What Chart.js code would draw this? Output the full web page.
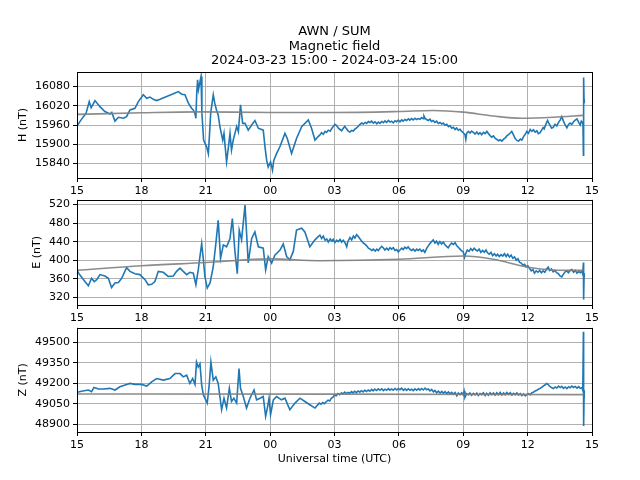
<!DOCTYPE html>
<html>
<head>
<meta charset="utf-8">
<title>AWN / SUM - Magnetic field</title>
<script src="https://cdn.jsdelivr.net/npm/chart.js@4.4.1/dist/chart.umd.min.js"></script>
<style>
  html, body { margin: 0; padding: 0; background: #fff; }
  .panel { position: absolute; left: 0; }
</style>
</head>
<body>
<canvas id="chartH" class="panel" width="640" height="196" style="top:0px"></canvas>
<canvas id="chartE" class="panel" width="640" height="133" style="top:190px"></canvas>
<canvas id="chartZ" class="panel" width="640" height="162" style="top:318px"></canvas>
<script>
// ── Data (x = hours since 2024-03-23 15:00 UTC) ──────────────────────
const X_TICKS = [0, 3, 6, 9, 12, 15, 18, 21, 24];
const X_LABELS = ['15', '18', '21', '00', '03', '06', '09', '12', '15'];

const H_TICKS = [15840, 15900, 15960, 16020, 16080];
const E_TICKS = [320, 360, 400, 440, 480, 520];
const Z_TICKS = [48900, 49050, 49200, 49350, 49500];

const H_TIME = [0, 0.15, 0.3, 0.42, 0.57, 0.66, 0.84, 1.07, 1.3, 1.54, 1.62, 1.77, 1.93, 2.16, 2.31, 2.47, 2.7, 2.86,
  3.09, 3.25, 3.4, 3.56, 3.71, 3.87, 4.18, 4.49, 4.72, 4.88, 5.03, 5.19, 5.34, 5.42, 5.5, 5.54, 5.58, 5.62, 5.66,
  5.72, 5.78, 5.82, 5.9, 6.04, 6.12, 6.16, 6.23, 6.35, 6.42, 6.5, 6.58, 6.66, 6.79, 6.85, 6.97, 7.05, 7.13, 7.2,
  7.28, 7.44, 7.52, 7.62, 7.72, 7.83, 7.98, 8.14, 8.29, 8.45, 8.68, 8.76, 8.84, 8.91, 9.02, 9.11, 9.17, 9.3, 9.46,
  9.69, 9.8, 10.0, 10.23, 10.47, 10.78, 10.93, 11.09, 11.24,
  11.32, 11.4, 11.48, 11.56, 11.63, 11.71, 11.8, 11.88, 11.94, 12.02, 12.1, 12.18, 12.26, 12.33, 12.41, 12.48, 12.56,
  12.64, 12.72, 12.8, 12.88, 12.95, 13.03, 13.11, 13.19, 13.27, 13.35, 13.43, 13.5, 13.58, 13.65, 13.73, 13.81, 13.89,
  13.97, 14.04, 14.12, 14.2, 14.28, 14.35, 14.43, 14.51, 14.59, 14.66, 14.74, 14.82, 14.89, 14.97, 15.05, 15.13, 15.2,
  15.28, 15.36, 15.44, 15.51, 15.59, 15.67, 15.75, 15.82, 15.9, 15.98, 16.06, 16.13, 16.17, 16.22, 16.29, 16.37,
  16.45, 16.52, 16.6, 16.68, 16.76, 16.84, 16.92, 17.0, 17.07, 17.15, 17.23, 17.31, 17.38, 17.46, 17.54, 17.62,
  17.69, 17.77, 17.85, 17.93, 18.0, 18.08, 18.12, 18.16, 18.24, 18.32, 18.39, 18.47, 18.55, 18.63, 18.71, 18.78,
  18.86, 18.94, 19.02, 19.1, 19.18, 19.25, 19.33, 19.41, 19.49, 19.57, 19.64, 19.72, 19.8, 19.88, 19.96, 20.03,
  20.11, 20.19, 20.26, 20.34, 20.42, 20.5, 20.58, 20.66, 20.73, 20.81, 20.89, 20.96, 21.04, 21.12, 21.2, 21.27,
  21.35, 21.43, 21.5, 21.58, 21.66, 21.72, 21.77, 21.85, 21.93, 21.97, 22.05, 22.12, 22.2, 22.28, 22.36, 22.44,
  22.52, 22.59, 22.67, 22.75, 22.83, 22.9, 22.98, 23.06, 23.14, 23.22, 23.3, 23.38, 23.45, 23.5, 23.55, 23.58, 23.6,
  23.61, 23.63, 23.64];
const H_VALUES = [15957, 15972, 15986, 15996, 16033, 16014, 16036, 16017, 16002, 15994, 15999, 15972, 15984, 15981,
  15986, 16007, 16012, 16033, 16054, 16043, 16047, 16040, 16036, 16040, 16049, 16057, 16064, 16056, 16054, 16028,
  16012, 16007, 15995, 15981, 16060, 16101, 16070, 16090, 16111, 15997, 15913, 15892, 15871, 15913, 15996, 16054,
  16028, 16007, 15991, 15955, 15913, 15934, 15845, 15887, 15934, 15882, 15913, 15955, 15939, 16023, 15965, 15965,
  15944, 15960, 15974, 15950, 15944, 15892, 15850, 15829, 15845, 15819, 15850, 15871, 15893, 15934, 15918, 15871,
  15918, 15955, 15976, 15950, 15913, 15924,
  15929, 15936, 15931, 15940, 15937, 15944, 15941, 15950, 15955, 15962, 15958, 15950, 15946, 15942, 15950, 15956,
  15948, 15941, 15938, 15943, 15941, 15947, 15951, 15956, 15962, 15966, 15963, 15968, 15965, 15971, 15968, 15972,
  15966, 15970, 15964, 15969, 15965, 15971, 15967, 15973, 15968, 15974, 15969, 15972, 15967, 15973, 15970, 15975,
  15970, 15976, 15972, 15977, 15974, 15979, 15975, 15980, 15976, 15981, 15977, 15980, 15978, 15983, 15980, 15988,
  15981, 15977, 15974, 15978, 15971, 15974, 15968, 15972, 15965, 15968, 15963, 15966, 15959, 15962, 15955, 15958,
  15950, 15953, 15946, 15951, 15944, 15947, 15940, 15936, 15930, 15915, 15934, 15940, 15935, 15941, 15937, 15932,
  15938, 15931, 15936, 15930, 15937, 15933, 15940, 15933, 15927, 15922, 15926, 15918, 15915, 15911, 15914, 15910,
  15916, 15920, 15926, 15930, 15935, 15940, 15929, 15918, 15912, 15910, 15916, 15913, 15924, 15931, 15940, 15934,
  15946, 15940, 15945, 15938, 15942, 15933, 15936, 15945, 15952, 15948, 15962, 15974, 15968, 15958, 15950, 15953,
  15962, 15957, 15968, 15976, 15986, 15972, 15960, 15951, 15961, 15966, 15962, 15970, 15975, 15979, 15968, 15960,
  15972, 15968, 15960, 15866, 16108, 16030, 16040];
const H_BASE_TIME = [0, 3, 5.6, 9, 12, 15, 16.6, 18, 19.4, 20.7, 22.2, 23.6];
const H_BASE = [15993, 15998, 16001, 15999, 15999, 16002, 16005, 16000, 15988, 15981, 15984, 15990];

const E_TIME = [0, 0.12, 0.37, 0.53, 0.68, 0.8, 0.92, 1.07, 1.3, 1.46, 1.61, 1.77, 1.93, 2.08, 2.31, 2.47, 2.7, 2.93,
  3.17, 3.32, 3.48, 3.63, 3.79, 4.02, 4.25, 4.49, 4.64, 4.8, 4.95, 5.11, 5.26, 5.42, 5.54, 5.65, 5.73, 5.81, 5.89,
  5.96, 6.07, 6.2, 6.35, 6.47, 6.58, 6.69, 6.82, 6.97, 7.13, 7.24, 7.36, 7.47, 7.56, 7.67, 7.83, 7.98, 8.14, 8.29,
  8.45, 8.68, 8.79, 8.91, 9.07, 9.22, 9.46, 9.61, 9.77, 9.92, 10.08, 10.23, 10.47, 10.62, 10.85, 11.09, 11.24,
  11.32, 11.4, 11.48, 11.56, 11.64, 11.71, 11.8, 11.88, 11.94, 12.02, 12.1, 12.17, 12.26, 12.33, 12.41, 12.5, 12.57,
  12.62, 12.72, 12.8, 12.88, 12.95, 13.03, 13.11, 13.19, 13.27, 13.35, 13.43, 13.5, 13.58, 13.66, 13.74, 13.81, 13.9,
  13.97, 14.04, 14.12, 14.2, 14.27, 14.35, 14.43, 14.51, 14.59, 14.66, 14.74, 14.82, 14.9, 14.97, 15.05, 15.13, 15.2,
  15.28, 15.36, 15.43, 15.51, 15.59, 15.67, 15.75, 15.83, 15.9, 15.98, 16.06, 16.14, 16.21, 16.29, 16.37, 16.45,
  16.52, 16.6, 16.68, 16.75, 16.83, 16.91, 16.99, 17.07, 17.14, 17.22, 17.3, 17.38, 17.46, 17.54, 17.62, 17.7, 17.77,
  17.85, 17.93, 18.0, 18.06, 18.11, 18.19, 18.27, 18.35, 18.43, 18.51, 18.59, 18.66, 18.74, 18.82, 18.9, 18.98,
  19.06, 19.13, 19.21, 19.29, 19.37, 19.45, 19.53, 19.6, 19.68, 19.76, 19.84, 19.92, 20.0, 20.07, 20.15, 20.23,
  20.31, 20.39, 20.47, 20.55, 20.62, 20.7, 20.78, 20.86, 20.93, 21.01, 21.09, 21.17, 21.25, 21.32, 21.4, 21.48,
  21.56, 21.64, 21.72, 21.8, 21.88, 21.96, 22.03, 22.11, 22.19, 22.27, 22.35, 22.43, 22.51, 22.59, 22.67, 22.75,
  22.83, 22.9, 22.98, 23.06, 23.14, 23.22, 23.3, 23.38, 23.45, 23.53, 23.57, 23.6, 23.61, 23.63, 23.64];
const E_VALUES = [378, 369, 354, 345, 361, 354, 358, 369, 366, 361, 341, 351, 352, 361, 384, 376, 371, 369, 358, 347,
  348, 354, 376, 374, 365, 366, 376, 383, 376, 369, 374, 372, 347, 379, 408, 436, 401, 365, 340, 351, 386, 436, 486,
  404, 433, 429, 447, 490, 419, 371, 465, 444, 519, 394, 447, 461, 429, 426, 379, 408, 394, 411, 422, 435, 408, 401,
  419, 465, 469, 461, 429, 444, 451,
  454, 447, 452, 443, 446, 439, 446, 441, 445, 438, 443, 440, 445, 439, 443, 437, 429, 440, 449, 444, 452, 448, 455,
  451, 446, 441, 437, 434, 431, 426, 424, 421, 424, 420, 424, 421, 426, 430, 427, 422, 426, 422, 427, 424, 427, 421,
  423, 418, 422, 426, 423, 428, 425, 429, 424, 421, 424, 420, 424, 421, 424, 419, 422, 417, 425, 431, 436, 440, 444,
  437, 441, 434, 440, 435, 439, 434, 430, 427, 433, 437, 434, 438, 431, 428, 424, 420, 418, 406, 414, 422, 419, 425,
  421, 426, 422, 420, 424, 417, 421, 417, 422, 416, 413, 417, 410, 414, 409, 413, 408, 412, 409, 414, 408, 413, 407,
  411, 404, 407, 400, 403, 396, 394, 389, 391, 386, 388, 382, 377, 380, 372, 377, 374, 378, 373, 377, 374, 381, 385,
  378, 381, 375, 378, 373, 371, 366, 364, 370, 375, 377, 373, 378, 380, 374, 378, 372, 376, 373, 376, 370, 395, 315,
  365, 372];
const E_BASE_TIME = [0, 3, 6, 9, 11.3, 15, 18, 19.4, 21, 22.2, 23.6];
const E_BASE = [378, 388, 395, 403, 399, 402, 409, 402, 385, 379, 378];

const Z_TIME = [0, 0.27, 0.53, 0.68, 0.79, 1.0, 1.23, 1.54, 1.77, 2.0, 2.24, 2.47, 2.7, 3.01, 3.25, 3.48, 3.71, 4.02,
  4.33, 4.57, 4.8, 4.95, 5.11, 5.26, 5.39, 5.5, 5.57, 5.65, 5.73, 5.81, 5.89, 6.0, 6.07, 6.16, 6.24, 6.35, 6.47,
  6.58, 6.66, 6.74, 6.85, 6.97, 7.1, 7.2, 7.31, 7.44, 7.55, 7.62, 7.75, 7.9, 8.06, 8.25, 8.37, 8.53, 8.68, 8.79,
  8.87, 8.95, 9.02, 9.15, 9.3, 9.53, 9.69, 9.92, 10.16, 10.39, 10.62, 10.85, 11.09,
  11.29, 11.37, 11.45, 11.53, 11.63, 11.7, 11.78, 11.85, 11.93, 12.0, 12.08, 12.16, 12.24, 12.32, 12.4, 12.48, 12.56,
  12.63, 12.71, 12.79, 12.86, 12.94, 13.02, 13.1, 13.18, 13.25, 13.33, 13.41, 13.49, 13.57, 13.65, 13.73, 13.8,
  13.88, 13.96, 14.04, 14.12, 14.2, 14.28, 14.35, 14.43, 14.51, 14.58, 14.66, 14.74, 14.82, 14.9, 14.97, 15.05,
  15.13, 15.21, 15.29, 15.36, 15.44, 15.52, 15.6, 15.67, 15.75, 15.83, 15.91, 15.98, 16.06, 16.14, 16.22, 16.29,
  16.37, 16.45, 16.53, 16.61, 16.68, 16.76, 16.84, 16.92, 17.0, 17.07, 17.15, 17.23, 17.31, 17.38, 17.46, 17.54,
  17.62, 17.7, 17.77, 17.85, 17.93, 18.0, 18.04, 18.08, 18.16, 18.24, 18.31, 18.39, 18.47, 18.55, 18.63, 18.7,
  18.78, 18.86, 18.94, 19.02, 19.09, 19.17, 19.25, 19.33, 19.41, 19.48, 19.56, 19.64, 19.72, 19.8, 19.88, 19.95,
  20.03, 20.11, 20.19, 20.27, 20.34, 20.42, 20.5, 20.58, 20.66, 20.73, 20.81, 20.89, 20.96, 21.04, 21.12, 21.2,
  21.27, 21.35, 21.43, 21.5, 21.58, 21.66, 21.74, 21.82, 21.89, 21.97, 22.05, 22.13, 22.2, 22.28, 22.36, 22.44,
  22.52, 22.59, 22.67, 22.75, 22.83, 22.91, 22.98, 23.06, 23.14, 23.22, 23.3, 23.38, 23.45, 23.53, 23.57, 23.6,
  23.61, 23.63, 23.64];
const Z_VALUES = [49135, 49145, 49152, 49140, 49171, 49159, 49159, 49164, 49152, 49176, 49188, 49200, 49193, 49193,
  49181, 49212, 49236, 49224, 49236, 49272, 49272, 49248, 49260, 49200, 49236, 49193, 49356, 49320, 49344, 49188,
  49116, 49080, 49056, 49188, 49356, 49224, 49248, 49200, 49104, 49008, 49092, 49020, 49164, 49068, 49092, 49056,
  49308, 49164, 49104, 49020, 49092, 49152, 49080, 49092, 49104, 48960, 49020, 49092, 48972, 49080, 49104, 49080,
  49092, 49008, 49056, 49092, 49068, 49044, 49020,
  49056, 49048, 49060, 49052, 49068, 49078, 49072, 49092, 49100, 49116, 49110, 49126, 49118, 49130, 49124, 49136,
  49126, 49134, 49128, 49140, 49131, 49142, 49133, 49145, 49136, 49147, 49138, 49150, 49141, 49152, 49143, 49156,
  49146, 49158, 49148, 49160, 49150, 49161, 49148, 49158, 49150, 49162, 49151, 49160, 49150, 49163, 49152, 49162,
  49154, 49165, 49150, 49160, 49149, 49161, 49150, 49158, 49148, 49160, 49150, 49162, 49151, 49163, 49152, 49166,
  49154, 49160, 49146, 49156, 49138, 49148, 49132, 49144, 49130, 49142, 49128, 49140, 49126, 49138, 49124, 49135,
  49122, 49134, 49110, 49130, 49118, 49132, 49116, 49142, 49098, 49126, 49118, 49130, 49114, 49128, 49116, 49130,
  49112, 49126, 49118, 49132, 49112, 49128, 49114, 49132, 49118, 49130, 49114, 49132, 49118, 49134, 49116, 49130,
  49118, 49134, 49120, 49132, 49116, 49128, 49118, 49130, 49116, 49126, 49112, 49124, 49110, 49120, 49126, 49118,
  49132, 49136, 49145, 49150, 49158, 49164, 49172, 49182, 49190, 49200, 49190, 49176, 49168, 49162, 49174, 49166,
  49180, 49170, 49178, 49164, 49174, 49162, 49176, 49168, 49180, 49170, 49178, 49166, 49176, 49164, 49170, 49150,
  49577, 48888, 49100, 49150];
const Z_BASE_TIME = [0, 12, 23.6];
const Z_BASE = [49123, 49122, 49118];

// ── Shared styling ───────────────────────────────────────────────────
Chart.defaults.font.family = "'DejaVu Sans', sans-serif";
Chart.defaults.font.size = 11;
Chart.defaults.color = '#000';

const toPoints = (ts, vs) => ts.map((t, i) => ({ x: t, y: vs[i] }));

// black box around the plot area, like matplotlib spines
const framePlugin = {
    id: 'frame',
    afterDatasetsDraw(chart) {
        const { ctx, chartArea: a } = chart;
        ctx.save();
        ctx.strokeStyle = '#000';
        ctx.lineWidth = 1;
        ctx.strokeRect(Math.round(a.left) + 0.5, Math.round(a.top) + 0.5,
            Math.round(a.right - a.left), Math.round(a.bottom - a.top));
        ctx.restore();
    }
};

function makePanel(id, cfg) {
    const ctx = document.getElementById(id).getContext('2d');
    return new Chart(ctx, {
        type: 'line',
        data: {
            datasets: [
                {
                    data: toPoints(cfg.baseTime, cfg.base),
                    borderColor: 'rgba(128,128,128,0.9)',
                    borderWidth: 1.6,
                    pointRadius: 0,
                    cubicInterpolationMode: 'monotone'
                },
                {
                    data: toPoints(cfg.time, cfg.values),
                    borderColor: '#1f77b4',
                    borderWidth: 1.6,
                    pointRadius: 0,
                    tension: 0
                }
            ]
        },
        options: {
            responsive: false,
            animation: false,
            layout: { padding: { left: 0, right: 48, top: cfg.padTop, bottom: cfg.padBottom } },
            plugins: {
                legend: { display: false },
                tooltip: { enabled: false },
                title: cfg.title ? {
                    display: true,
                    fullSize: false,
                    text: cfg.title,
                    color: '#000',
                    font: { size: 13, weight: 'normal', lineHeight: '14.5px' },
                    padding: { top: 24.8, bottom: 3.7 }
                } : { display: false }
            },
            scales: {
                x: {
                    type: 'linear',
                    min: 0,
                    max: 24,
                    afterBuildTicks: axis => { axis.ticks = X_TICKS.map(v => ({ value: v })); },
                    afterFit: axis => { axis.height = cfg.xHeight; },
                    ticks: { callback: (v, i) => X_LABELS[i], padding: 3, maxRotation: 0 },
                    grid: { color: '#b0b0b0', tickColor: '#000', tickLength: 4 },
                    border: { display: false },
                    title: cfg.xTitle ? {
                        display: true, text: cfg.xTitle, padding: { top: 0, bottom: 0.5 }
                    } : { display: false }
                },
                y: {
                    min: cfg.min,
                    max: cfg.max,
                    afterBuildTicks: axis => { axis.ticks = cfg.ticks.map(v => ({ value: v })); },
                    afterFit: axis => { axis.width = 77; },
                    ticks: { callback: v => String(v), padding: 3 },
                    grid: { color: '#b0b0b0', tickColor: '#000', tickLength: 4 },
                    border: { display: false },
                    title: { display: true, text: cfg.yTitle, padding: { top: cfg.yTitlePad, bottom: 0 } }
                }
            }
        },
        plugins: [framePlugin]
    });
}

// ── Panels ───────────────────────────────────────────────────────────
makePanel('chartH', {
    title: ['AWN / SUM', 'Magnetic field', '2024-03-23 15:00 - 2024-03-24 15:00'],
    time: H_TIME, values: H_VALUES, baseTime: H_BASE_TIME, base: H_BASE,
    ticks: H_TICKS, min: 15795, max: 16125,
    yTitle: 'H (nT)', yTitlePad: 16.4,
    padTop: 0, padBottom: 0, xHeight: 18
});

makePanel('chartE', {
    time: E_TIME, values: E_VALUES, baseTime: E_BASE_TIME, base: E_BASE,
    ticks: E_TICKS, min: 303.4, max: 530.8,
    yTitle: 'E (nT)', yTitlePad: 30.4,
    padTop: 9, padBottom: 0, xHeight: 18
});

makePanel('chartZ', {
    time: Z_TIME, values: Z_VALUES, baseTime: Z_BASE_TIME, base: Z_BASE,
    ticks: Z_TICKS, min: 48845, max: 49608,
    yTitle: 'Z (nT)', yTitlePad: 16.4,
    xTitle: 'Universal time (UTC)',
    padTop: 8, padBottom: 14, xHeight: 34
});
</script>
</body>
</html>
